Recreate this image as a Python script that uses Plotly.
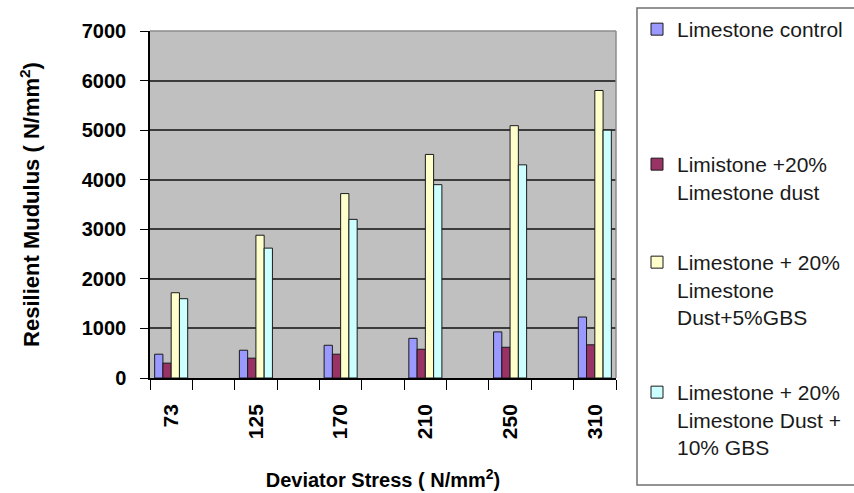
import plotly.graph_objects as go

stress = ["73", "125", "170", "210", "250", "310"]
series_names = [
    "Limestone control",
    "Limistone +20%<br>Limestone dust",
    "Limestone + 20%<br>Limestone<br>Dust+5%GBS",
    "Limestone + 20%<br>Limestone Dust +<br>10% GBS",
]
limestone_control = [480, 560, 660, 800, 930, 1230]
limestone_dust = [300, 400, 480, 580, 620, 670]
dust_5gbs = [1720, 2880, 3720, 4510, 5090, 5800]
dust_10gbs = [1600, 2620, 3200, 3900, 4300, 5000]
colors = ["#9999FF", "#993366", "#FFFFCC", "#CCFFFF"]
legend_tops_px = [9, 144, 242, 372]

# category order with blank spacer categories between the stress levels
cat_order = []
for i, s in enumerate(stress):
    cat_order.append(s)
    if i < len(stress) - 1:
        cat_order.append(" " * (i + 1))

FONT = "Liberation Sans, Arial, sans-serif"
W, H = 854, 493

fig = go.Figure()
all_series = [limestone_control, limestone_dust, dust_5gbs, dust_10gbs]
legend_ids = ["legend", "legend2", "legend3", "legend4"]
for name, vals, col, lid in zip(series_names, all_series, colors, legend_ids):
    fig.add_trace(go.Bar(
        x=stress, y=vals, name=name,
        marker=dict(color=col, line=dict(color="#1a1a1a", width=1)),
        legend=lid,
    ))

legend_common = dict(
    xref="container", yref="container", x=637 / W, xanchor="left", yanchor="top",
    bgcolor="rgba(0,0,0,0)", borderwidth=0, valign="top",
    font=dict(family=FONT, size=21, color="#1a1a1a"),
)
layout_legends = {}
for lid, top in zip(legend_ids, legend_tops_px):
    layout_legends[lid] = dict(legend_common, y=1 - top / H)

fig.update_layout(
    width=W, height=H,
    margin=dict(l=150, r=238, t=31, b=115, autoexpand=False),
    paper_bgcolor="white",
    plot_bgcolor="#C0C0C0",
    barmode="group",
    bargap=0.22,
    bargroupgap=0,
    font=dict(family=FONT, color="black"),
    showlegend=True,
    **layout_legends,
    xaxis=dict(
        type="category", categoryorder="array", categoryarray=cat_order,
        range=[-0.5, len(cat_order) - 0.5],
        tickson="boundaries", ticks="outside", ticklen=10, tickwidth=1, tickcolor="black",
        showgrid=False, showline=True, linecolor="black", linewidth=1.5,
        tickangle=-90, ticklabelstandoff=16,
        tickfont=dict(family=FONT, size=21, color="black", weight="bold"),
        title=dict(text="Deviator Stress ( N/mm<sup>2</sup>)",
                   font=dict(family=FONT, size=20, color="black", weight="bold"),
                   standoff=35),
        automargin=False, zeroline=False,
    ),
    yaxis=dict(
        range=[0, 7000], dtick=1000, ticks="outside", ticklen=8, tickcolor="black",
        showline=True, linecolor="black", linewidth=1.5,
        showgrid=True, gridcolor="#3c3c3c", gridwidth=1.5,
        ticklabelstandoff=10,
        tickfont=dict(family=FONT, size=20, color="black", weight="bold"),
        title=dict(text="Resilient Mudulus ( N/mm<sup>2</sup>)",
                   font=dict(family=FONT, size=22, color="black", weight="bold"),
                   standoff=36),
        automargin=False, zeroline=False,
    ),
    shapes=[
        dict(type="line", xref="paper", yref="paper", x0=0, x1=1, y0=1, y1=1,
             line=dict(color="#8c8c8c", width=1.5), layer="above"),
        dict(type="line", xref="paper", yref="paper", x0=1, x1=1, y0=0, y1=1,
             line=dict(color="#8c8c8c", width=1.5), layer="above"),
        dict(type="rect", xref="paper", yref="paper",
             x0=(637 - 150) / 466, x1=(860 - 150) / 466,
             y0=(378 - 485) / 347, y1=(378 - 8) / 347,
             line=dict(color="#707070", width=1.5), fillcolor="rgba(0,0,0,0)", layer="above"),
    ],
)

fig.write_html(
    "out.html",
    config={"displayModeBar": False},
    post_script="document.body.style.margin='0';document.body.style.overflow='hidden';",
)
